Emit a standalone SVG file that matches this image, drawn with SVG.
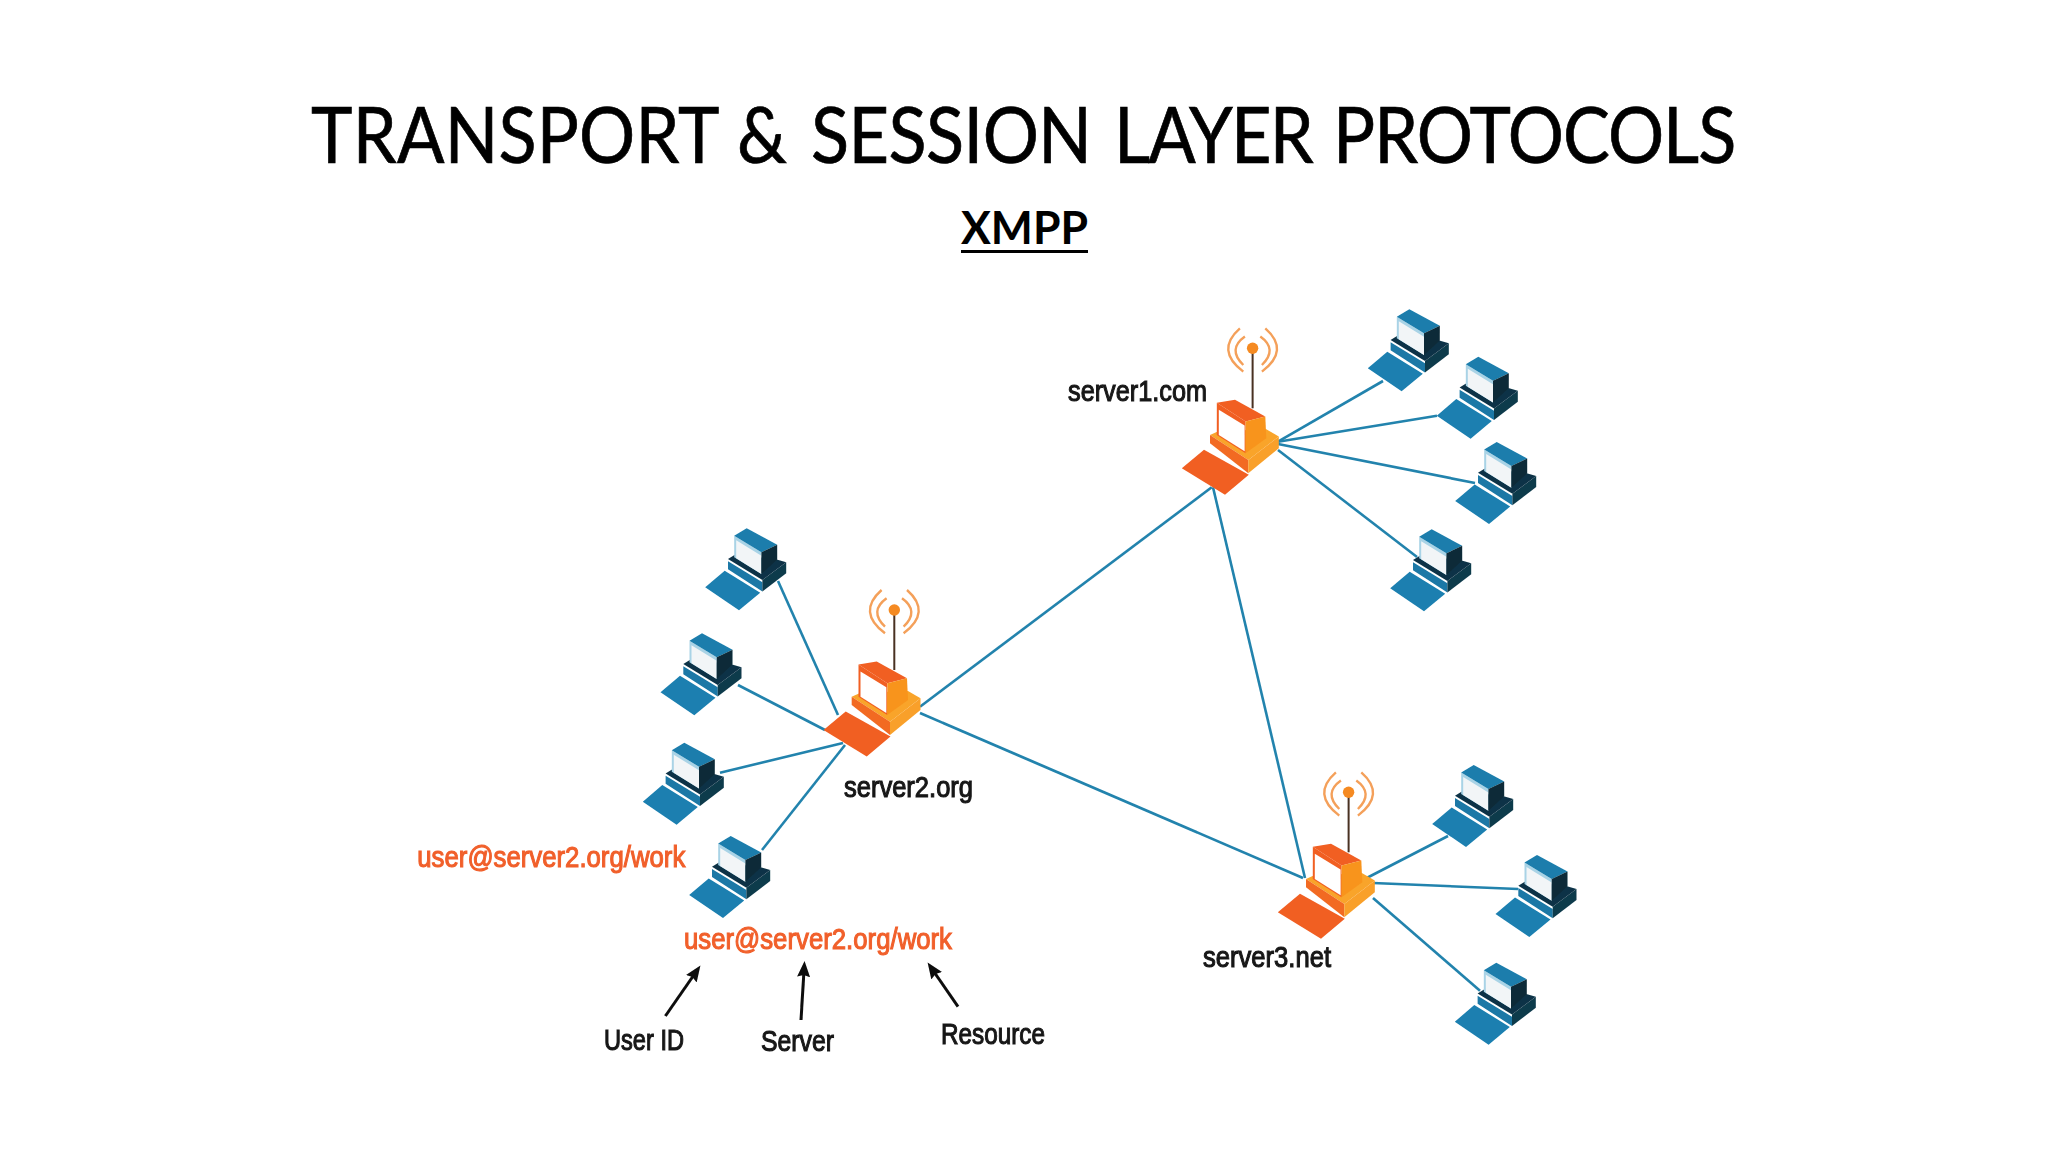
<svg xmlns="http://www.w3.org/2000/svg" width="2048" height="1152" viewBox="0 0 2048 1152">
<style>
.title{font-family:"Lato","Liberation Sans",sans-serif;font-size:78px;fill:#000;stroke:#000;stroke-width:.7}
.sub{font-family:"Lato","Liberation Sans",sans-serif;font-size:45px;font-weight:700;fill:#000}
.lbl{font-family:"Liberation Sans",Arial,sans-serif;font-size:29px;fill:#151515;stroke:#151515;stroke-width:1.1}
.org{fill:#f15f2a;stroke:#f15f2a}
.link{stroke:#2283ad;stroke-width:2.6;fill:none}
.arrow{stroke:#0a0a0a;stroke-width:3;fill:none;marker-end:url(#head)}
.wave{fill:none;stroke:#f4a05a;stroke-width:2.4}
</style>
<defs>
<filter id="soft" x="-5%" y="-5%" width="110%" height="110%"><feGaussianBlur stdDeviation="0.6"/></filter>
<marker id="head" markerUnits="userSpaceOnUse" markerWidth="20" markerHeight="16" refX="10" refY="7" orient="auto"><path d="M0 0.5L16 7L0 13.5L2 7Z" fill="#0a0a0a"/></marker>
<g id="client">
<polygon points="-0.5,0 19,-16.6 54.5,5.4 33.3,23" fill="#1a7fb0"/>
<polygon points="22.3,-28.3 30,-33 71,-27.7 80.5,-25 56.7,-7.3" fill="#0b3346"/>
<polygon points="22.3,-26 22.3,-18 56.7,4.3 56.7,-5" fill="#1a78a6"/>
<polygon points="56.7,4.3 80.5,-14 80.5,-25 56.7,-7.3" fill="#0f3a4c"/>
<polygon points="28.5,-51.5 55.7,-35 55.7,-13.3 28.5,-30" fill="#a9d3e6"/>
<polygon points="30.5,-47 55.7,-31.5 55.7,-13.3 30.5,-29" fill="#f2f5f7"/>
<polygon points="28.5,-51.5 41,-59 71.5,-42.5 55.7,-35" fill="#1a7dac"/>
<polygon points="55.7,-35 71.5,-42.5 71.5,-27.7 55.7,-13.3" fill="#0a2a38"/>
</g>
<g id="server">
<polygon points="-0.5,0 21.7,-18.5 66.5,6.5 42.7,26.5" fill="#f15f22"/>
<polygon points="27.7,-33.3 36,-37 84,-39 96.5,-31.7 66,-8.3" fill="#f9a42a"/>
<polygon points="27.7,-33.3 27.7,-25 66,5 66,-8.3" fill="#f26a23"/>
<polygon points="66,5 96.5,-20 96.5,-31.7 66,-8.3" fill="#f9a02a"/>
<polygon points="34.5,-65.5 63.3,-46.7 63.3,-15 34.5,-33.3" fill="#f15f22"/>
<polygon points="36.5,-58.5 62.3,-42.7 62.3,-17 36.5,-33.3" fill="#fff"/>
<polygon points="34.5,-65.5 52.7,-68.5 83,-51.7 63.3,-46.7" fill="#f15f22"/>
<polygon points="63.3,-46.7 83,-51.7 84,-30 63.3,-15" fill="#f8941d"/>
<line x1="70.3" y1="-120" x2="70.3" y2="-60" stroke="#4a3022" stroke-width="2"/>
<circle cx="70.3" cy="-120" r="5.7" fill="#f58a20"/>
<path class="wave" d="M62.6-131.7Q44.8-119 61-103.3M57.6-140Q32.7-118 61-96.7M78-131.7Q95.8-119 79.6-103.3M83-140Q108-118 79.6-96.7"/>
</g>
</defs>
<rect width="2048" height="1152" fill="#fff"/>
<g id="heading">
<text class="title" y="163" transform="scale(.9 1)"><tspan x="345.6" style="letter-spacing:.25px">TRANSPORT</tspan> <tspan x="819">&amp;</tspan> <tspan x="901.1" style="letter-spacing:-.6px">SESSION</tspan> <tspan x="1237.8" style="letter-spacing:-2px">LAYER</tspan> <tspan x="1481.1" style="letter-spacing:-1.1px">PROTOCOLS</tspan></text>
<text class="sub" x="961" y="244" textLength="127" lengthAdjust="spacingAndGlyphs">XMPP</text>
<rect x="961" y="250" width="127" height="3"/>
</g>
<g filter="url(#soft)">
<g id="connectors">
<line class="link" x1="1211.7" y1="487.3" x2="920" y2="706.7"/>
<line class="link" x1="1213" y1="487.3" x2="1305" y2="878"/>
<line class="link" x1="920" y1="713" x2="1303" y2="878"/>
<line class="link" x1="1278" y1="441.7" x2="1383" y2="381"/>
<line class="link" x1="1278" y1="441.7" x2="1437" y2="415.7"/>
<line class="link" x1="1278" y1="444" x2="1475" y2="483"/>
<line class="link" x1="1278" y1="450" x2="1417" y2="557"/>
<line class="link" x1="778" y1="581" x2="838" y2="715"/>
<line class="link" x1="738" y1="685" x2="825" y2="730"/>
<line class="link" x1="720" y1="772.7" x2="843" y2="743"/>
<line class="link" x1="762" y1="850" x2="845" y2="745"/>
<line class="link" x1="1366.7" y1="878" x2="1448" y2="836"/>
<line class="link" x1="1373" y1="883" x2="1518" y2="889"/>
<line class="link" x1="1373" y1="898" x2="1480" y2="990.7"/>
</g>
<g id="server1"><use href="#server" x="1182.3" y="468.3"/><text class="lbl" x="1068" y="400.7" textLength="139" lengthAdjust="spacingAndGlyphs">server1.com</text></g>
<g id="server2"><use href="#server" x="824" y="730"/><text class="lbl" x="844" y="796.7" textLength="129" lengthAdjust="spacingAndGlyphs">server2.org</text></g>
<g id="server3"><use href="#server" x="1278.3" y="912.3"/><text class="lbl" x="1203" y="966.7" textLength="128" lengthAdjust="spacingAndGlyphs">server3.net</text></g>
<g id="client1a"><use href="#client" x="1368.3" y="368.3"/></g>
<g id="client1b"><use href="#client" x="1437.3" y="415.7"/></g>
<g id="client1c"><use href="#client" x="1455.7" y="501"/></g>
<g id="client1d"><use href="#client" x="1390.7" y="588.3"/></g>
<g id="client2a"><use href="#client" x="705.7" y="587.3"/></g>
<g id="client2b"><use href="#client" x="661" y="692.3"/></g>
<g id="client2c"><use href="#client" x="643.3" y="801.7"/></g>
<g id="client2d"><use href="#client" x="689.7" y="895"/><text class="lbl org" x="417.3" y="866.7" textLength="268" lengthAdjust="spacingAndGlyphs">user@server2.org/work</text></g>
<g id="client3a"><use href="#client" x="1432.7" y="824"/></g>
<g id="client3b"><use href="#client" x="1496" y="914"/></g>
<g id="client3c"><use href="#client" x="1455.3" y="1021.7"/></g>
<g id="address">
<text class="lbl org" x="684" y="949" textLength="268" lengthAdjust="spacingAndGlyphs">user@server2.org/work</text>
<line class="arrow" x1="665.4" y1="1016" x2="697" y2="970.5"/>
<line class="arrow" x1="801" y1="1020" x2="804.2" y2="967"/>
<line class="arrow" x1="958" y1="1006.7" x2="931" y2="967.5"/>
<text class="lbl" x="604" y="1050" textLength="80" lengthAdjust="spacingAndGlyphs">User ID</text>
<text class="lbl" x="761" y="1051" textLength="73" lengthAdjust="spacingAndGlyphs">Server</text>
<text class="lbl" x="941" y="1044" textLength="104" lengthAdjust="spacingAndGlyphs">Resource</text>
</g>
</g>
</svg>
